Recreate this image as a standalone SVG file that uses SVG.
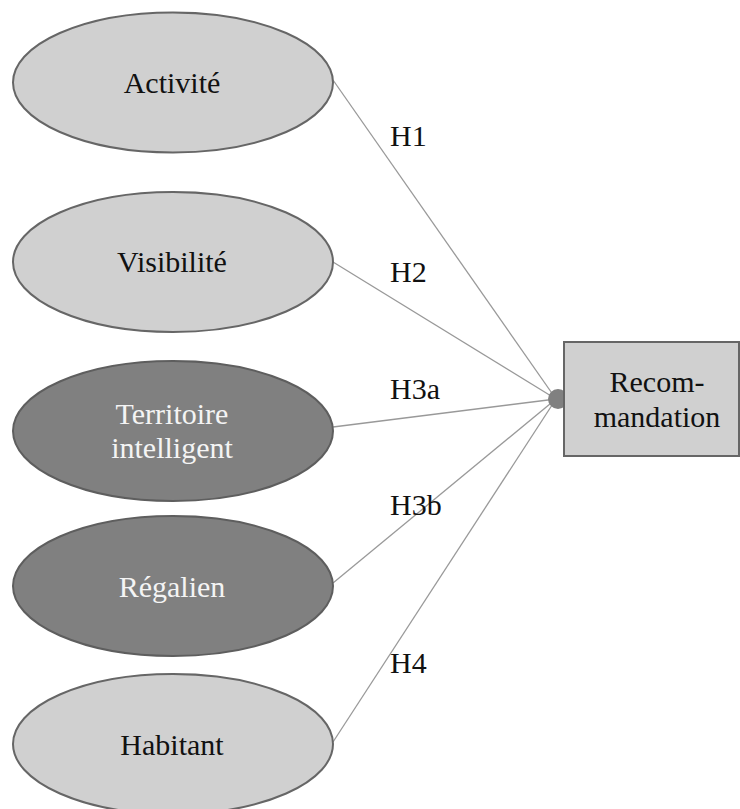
<svg xmlns="http://www.w3.org/2000/svg" width="740" height="809" viewBox="0 0 740 809">
<style>
.light{fill:#d0d0d0;stroke:#666;stroke-width:2}
.dark{fill:#808080;stroke:#5e5e5e;stroke-width:2}
.tb{fill:#111}
.tw{fill:#f4f4f4}
.conn{stroke:#999;stroke-width:1.3;fill:none}
</style>
<rect width="740" height="809" fill="#fff"/>
<g id="connectors">
<line class="conn" x1="333" y1="80" x2="556" y2="399"/>
<line class="conn" x1="333" y1="262" x2="556" y2="399"/>
<line class="conn" x1="333" y1="427" x2="556" y2="399"/>
<line class="conn" x1="333" y1="583" x2="556" y2="399"/>
<line class="conn" x1="333" y1="742" x2="556" y2="399"/>
<circle cx="558" cy="399" r="10" fill="#808080"/>
<g font-family="Liberation Serif, Times New Roman, Tinos, serif" font-size="30" fill="#111">
<text x="390" y="146">H1</text>
<text x="390" y="282">H2</text>
<text x="390" y="399">H3a</text>
<text x="390" y="515">H3b</text>
<text x="390" y="673">H4</text>
</g>
</g>
<g font-family="Liberation Serif, Times New Roman, Tinos, serif" font-size="30" text-anchor="middle">
<g id="activite">
<ellipse class="light" cx="173" cy="82.5" rx="160" ry="70"/>
<text class="tb" x="172" y="93">Activité</text>
</g>
<g id="visibilite">
<ellipse class="light" cx="173" cy="262" rx="160" ry="70"/>
<text class="tb" x="172" y="272">Visibilité</text>
</g>
<g id="territoire">
<ellipse class="dark" cx="173" cy="431" rx="160" ry="70"/>
<text class="tw" x="172" y="424">Territoire</text>
<text class="tw" x="172" y="458">intelligent</text>
</g>
<g id="regalien">
<ellipse class="dark" cx="173" cy="586" rx="160" ry="70"/>
<text class="tw" x="172" y="597">Régalien</text>
</g>
<g id="habitant">
<ellipse class="light" cx="173" cy="744" rx="160" ry="70"/>
<text class="tb" x="172" y="755">Habitant</text>
</g>
<g id="recommandation">
<rect class="light" x="564" y="342" width="175" height="114"/>
<text class="tb" x="657" y="392">Recom-</text>
<text class="tb" x="657" y="427">mandation</text>
</g>
</g>
</svg>
